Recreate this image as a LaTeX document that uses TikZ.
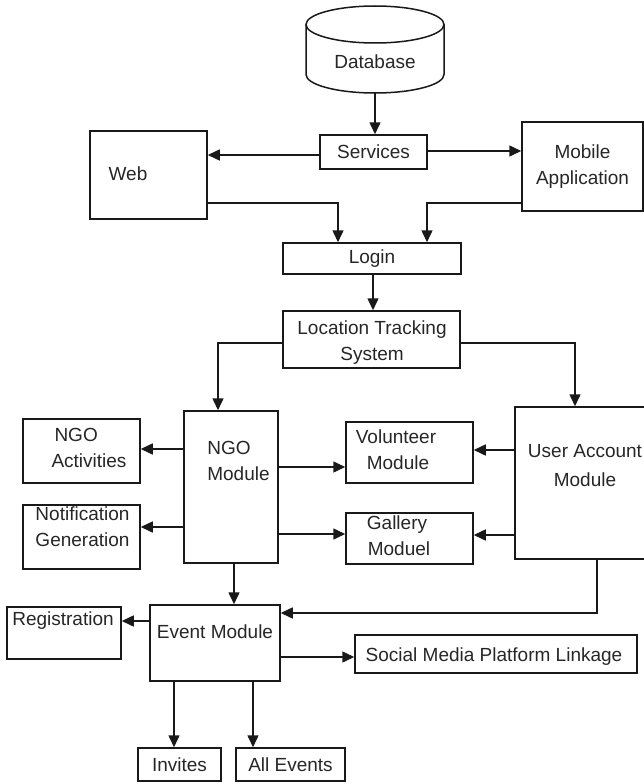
\documentclass[tikz,border=0pt]{standalone}
\usepackage{fontspec}
\setmainfont{Liberation Sans}
\usetikzlibrary{arrows.meta,calc}
\begin{document}
\begin{tikzpicture}[x=1pt,y=-1pt,
  every node/.style={font=\fontsize{19}{26}\selectfont, text=black!85},
  box/.style={draw=black!90, line width=1.5pt, inner sep=0pt, rectangle},
  txt/.style={inner sep=0pt, align=center},
  txtl/.style={inner sep=0pt, align=left},
  arr/.style={draw=black!90, line width=1.5pt, -{Triangle[length=12pt,width=11pt]}}]
\useasboundingbox (0,0) rectangle (644,784);
% Database cylinder
\node[inner sep=0pt, minimum width=138pt, minimum height=87pt] (db) at (375,49.5) {};
\draw[line width=1.5pt, draw=black!90] (375,24.5) ellipse [x radius=69pt, y radius=18.5pt];
\draw[line width=1.5pt, draw=black!90] (306,24.5) -- (306,74.5) arc [start angle=180, end angle=360, x radius=69pt, y radius=18.5pt] -- (444,24.5);
\node[txt] at (375,62) {Database};
% boxes
\node[box, minimum width=107pt, minimum height=34pt] (services) at (373.5,152) {Services};
\node[box, minimum width=117pt, minimum height=88pt] (web) at (148.5,175) {};
\node[txt] at (128,174) {Web};
\node[box, minimum width=121pt, minimum height=89pt, align=center] (mobile) at (582.5,166.5) {Mobile\\Application};
\node[box, minimum width=178pt, minimum height=31pt] (login) at (372,258.5) {Login};
\node[box, minimum width=177pt, minimum height=57pt] (lts) at (371.5,339.5) {};
\node[txt] at (372,343) {Location Tracking\\System};
\node[box, minimum width=117pt, minimum height=64pt] (ngoact) at (81.5,451) {};
\node[txtl] at (89,448) {\hspace*{3pt}NGO\\Activities};
\node[box, minimum width=117pt, minimum height=64pt] (notif) at (81.5,537) {};
\node[txtl] at (82.5,527) {Notification\\Generation};
\node[box, minimum width=94pt, minimum height=152pt] (ngomod) at (231,487) {};
\node[txtl] at (238.5,461) {NGO\\Module};
\node[box, minimum width=127pt, minimum height=61pt] (vol) at (409.5,452.5) {};
\node[txt] at (396,449.5) {Volunteer\\\hspace*{4pt}Module};
\node[box, minimum width=127pt, minimum height=51pt] (gal) at (409.5,538.5) {};
\node[txt] at (397,535.5) {Gallery\\\hspace*{4pt}Moduel};
\node[box, minimum width=134pt, minimum height=152pt] (uam) at (582,483) {};
\node[txt, font=\fontsize{19}{29}\selectfont] at (585,465.5) {User Account\\Module};
\node[box, minimum width=130pt, minimum height=76pt] (event) at (215,643) {};
\node[txt] at (215,632) {Event Module};
\node[box, minimum width=114pt, minimum height=52pt] (reg) at (64,633) {};
\node[txt] at (63,621) {Registration};
\node[box, minimum width=282pt, minimum height=38pt] (social) at (496,654) {};
\node[txt] at (494,657) {Social Media Platform Linkage};
\node[box, minimum width=83pt, minimum height=33pt] (invites) at (179.5,764.5) {Invites};
\node[box, minimum width=109pt, minimum height=33pt] (allev) at (290.5,764.5) {All Events};
% connectors
\draw[arr] (db.south -| 375,0) -- (services.north -| 375,0);
\draw[arr] (services.west |- 0,155) -- (web.east |- 0,155);
\draw[arr] (services.east |- 0,151) -- (mobile.west |- 0,151);
\draw[arr] (web.east |- 0,203) -| (login.north -| 338,0);
\draw[arr] (mobile.west |- 0,203) -| (login.north -| 427,0);
\draw[arr] (login.south -| 373,0) -- (lts.north -| 373,0);
\draw[arr] (lts.west |- 0,343) -| (ngomod.north -| 218,0);
\draw[arr] (lts.east |- 0,343) -| (uam.north -| 575,0);
\draw[arr] (ngomod.west |- 0,449) -- (ngoact.east |- 0,449);
\draw[arr] (ngomod.west |- 0,527) -- (notif.east |- 0,527);
\draw[arr] (ngomod.east |- 0,467) -- (vol.west |- 0,467);
\draw[arr] (ngomod.east |- 0,534) -- (gal.west |- 0,534);
\draw[arr] (uam.west |- 0,450) -- (vol.east |- 0,450);
\draw[arr] (uam.west |- 0,535) -- (gal.east |- 0,535);
\draw[arr] (uam.south -| 597,0) |- (event.east |- 0,613);
\draw[arr] (ngomod.south -| 234,0) -- (event.north -| 234,0);
\draw[arr] (event.west |- 0,621) -- (reg.east |- 0,621);
\draw[arr] (event.east |- 0,657) -- (social.west |- 0,657);
\draw[arr] (event.south -| 174,0) -- (invites.north -| 174,0);
\draw[arr] (event.south -| 253,0) -- (allev.north -| 253,0);
\end{tikzpicture}
\end{document}
